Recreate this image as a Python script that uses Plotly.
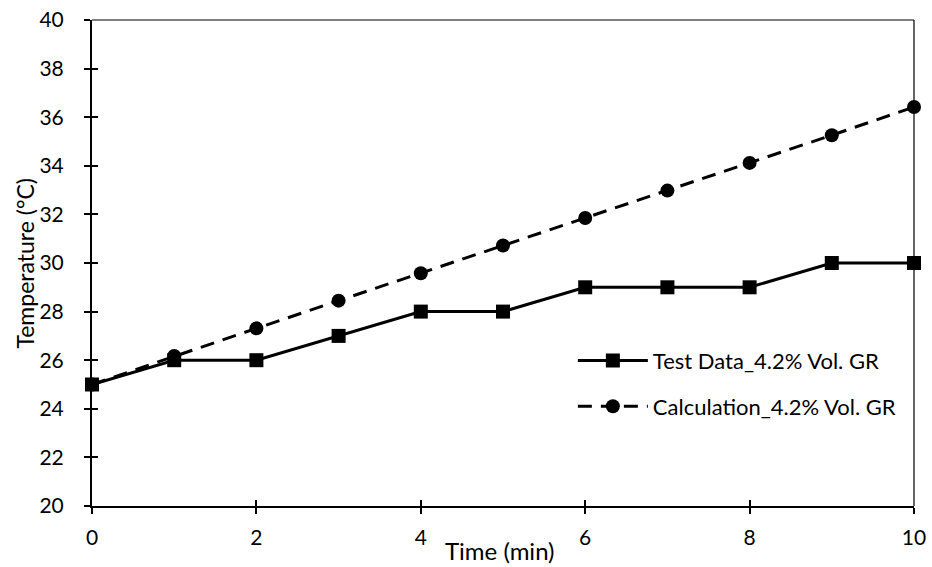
import plotly.graph_objects as go

# Temperature rise over time, measured vs calculated
time_min = [0, 1, 2, 3, 4, 5, 6, 7, 8, 9, 10]
test_data = [25, 26, 26, 27, 28, 28, 29, 29, 29, 30, 30]
calculation = [25, 26.17, 27.31, 28.45, 29.58, 30.72, 31.85, 32.98, 34.12, 35.26, 36.42]

x_ticks = [0, 2, 4, 6, 8, 10]
y_ticks = [20, 22, 24, 26, 28, 30, 32, 34, 36, 38, 40]

FONT = "Lato"
BLACK = "#000000"

fig = go.Figure()

fig.add_trace(go.Scatter(
    x=time_min, y=test_data, mode="lines+markers",
    name="Test Data_4.2% Vol. GR", legendgroup="a",
    line=dict(color=BLACK, width=3),
    marker=dict(symbol="square", size=14, color=BLACK),
    cliponaxis=False,
))
fig.add_trace(go.Scatter(
    x=time_min, y=calculation, mode="lines+markers",
    name="Calculation_4.2% Vol. GR", legendgroup="b",
    line=dict(color=BLACK, width=3, dash="14px,9px"),
    marker=dict(symbol="circle", size=14, color=BLACK),
    cliponaxis=False,
))
# invisible trace that carries the inward tick overlay axes
fig.add_trace(go.Scatter(
    x=[0], y=[20], xaxis="x2", yaxis="y2", mode="markers",
    marker=dict(opacity=0), showlegend=False, hoverinfo="skip",
))

axis_common = dict(
    showgrid=False, zeroline=False, showline=True, automargin=False,
    linecolor=BLACK, linewidth=2, ticks="outside", ticklen=6,
    tickwidth=1.5, tickcolor=BLACK,
    tickfont=dict(family=FONT, size=21, color=BLACK),
)
overlay_common = dict(
    showgrid=False, zeroline=False, showline=False, showticklabels=False,
    automargin=False, ticks="inside", ticklen=6, tickwidth=1.5, tickcolor=BLACK,
)

fig.update_layout(
    width=932, height=567,
    margin=dict(l=92, r=18, t=20, b=61, autoexpand=False),
    paper_bgcolor="white", plot_bgcolor="white",
    font=dict(family=FONT, size=21, color=BLACK),
    xaxis=dict(range=[0, 10], tickvals=x_ticks, ticklabelstandoff=6, **axis_common),
    yaxis=dict(range=[20, 40], tickvals=y_ticks, ticklabelstandoff=16, **axis_common),
    xaxis2=dict(range=[0, 10], tickvals=x_ticks, overlaying="x", anchor="y2", **overlay_common),
    yaxis2=dict(range=[20, 40], tickvals=y_ticks, overlaying="y", anchor="x2", **overlay_common),
    legend=dict(
        x=0.585, y=0.342, xanchor="left", yanchor="top",
        bgcolor="rgba(0,0,0,0)", tracegroupgap=14, itemwidth=70,
        font=dict(family=FONT, size=22, color=BLACK),
    ),
    showlegend=True,
)

# thin frame on the top and right of the plot area
fig.add_shape(type="line", xref="x domain", yref="y domain",
              x0=0, x1=1, y0=1, y1=1, line=dict(color=BLACK, width=1.2), layer="below")
fig.add_shape(type="line", xref="x domain", yref="y domain",
              x0=1, x1=1, y0=0, y1=1, line=dict(color=BLACK, width=1.2), layer="below")

fig.add_annotation(text="Time (min)", xref="paper", yref="paper",
                   x=0.496, y=-0.092, xanchor="center", yanchor="middle",
                   showarrow=False, font=dict(family=FONT, size=24, color=BLACK))
fig.add_annotation(text="Temperature (°C)", xref="paper", yref="paper",
                   x=-0.082, y=0.5, xanchor="center", yanchor="middle", textangle=-90,
                   showarrow=False, font=dict(family=FONT, size=23, color=BLACK))

fig.write_html("out.html")
